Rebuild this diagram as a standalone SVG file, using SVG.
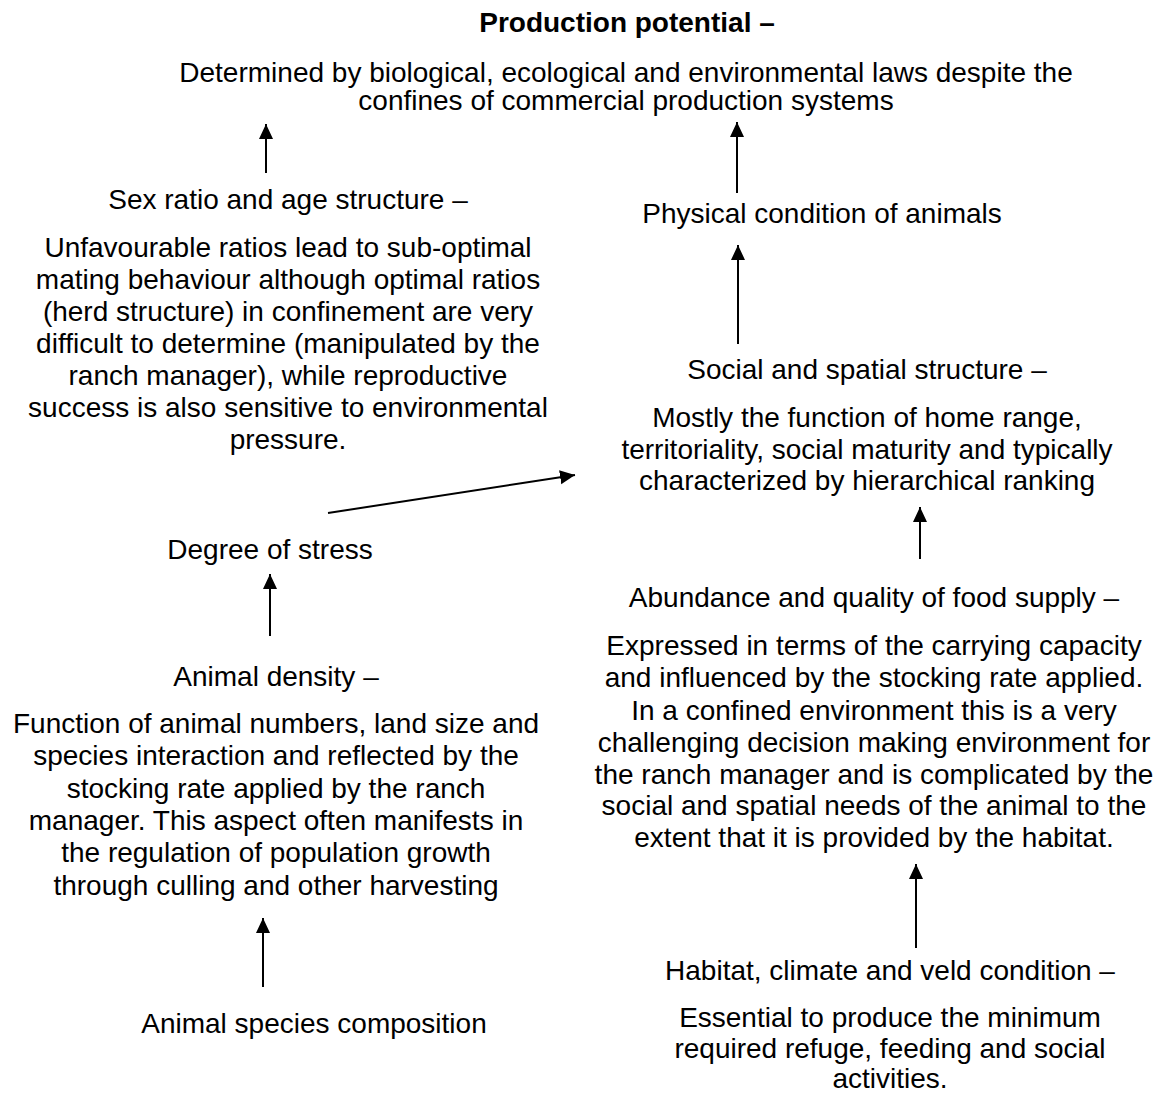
<svg xmlns="http://www.w3.org/2000/svg" width="1162" height="1095" viewBox="0 0 1162 1095">
<defs>
<style>
text{font-family:"Liberation Sans",Arial,sans-serif;font-size:28px;fill:#000;text-anchor:middle}
.b{font-weight:bold}
.c{stroke:#000;stroke-width:2;fill:none;marker-end:url(#ah)}
</style>
<marker id="ah" markerUnits="userSpaceOnUse" markerWidth="16" markerHeight="16" refX="15" refY="7" orient="auto" viewBox="0 0 16 14">
<path d="M0,0 L15,7 L0,14 z" fill="#000"/>
</marker>
</defs>
<rect width="1162" height="1095" fill="#fff"/>
<g id="production-potential">
<text class="b" x="627" y="32">Production potential –</text>
<text x="626" y="82">Determined by biological, ecological and environmental laws despite the</text>
<text x="626" y="110">confines of commercial production systems</text>
</g>
<g id="sex-ratio">
<text x="288" y="209">Sex ratio and age structure –</text>
<text x="288" y="257">Unfavourable ratios lead to sub-optimal</text>
<text x="288" y="289">mating behaviour although optimal ratios</text>
<text x="288" y="321">(herd structure) in confinement are very</text>
<text x="288" y="353">difficult to determine (manipulated by the</text>
<text x="288" y="385">ranch manager), while reproductive</text>
<text x="288" y="417">success is also sensitive to environmental</text>
<text x="288" y="449">pressure.</text>
</g>
<g id="physical-condition">
<text x="822" y="223">Physical condition of animals</text>
</g>
<g id="social-spatial">
<text x="867" y="379">Social and spatial structure –</text>
<text x="867" y="427">Mostly the function of home range,</text>
<text x="867" y="459">territoriality, social maturity and typically</text>
<text x="867" y="490">characterized by hierarchical ranking</text>
</g>
<g id="degree-of-stress">
<text x="270" y="559">Degree of stress</text>
</g>
<g id="animal-density">
<text x="276" y="686">Animal density –</text>
<text x="276" y="733">Function of animal numbers, land size and</text>
<text x="276" y="765">species interaction and reflected by the</text>
<text x="276" y="798">stocking rate applied by the ranch</text>
<text x="276" y="830">manager. This aspect often manifests in</text>
<text x="276" y="862">the regulation of population growth</text>
<text x="276" y="895">through culling and other harvesting</text>
</g>
<g id="species-composition">
<text x="314" y="1033">Animal species composition</text>
</g>
<g id="food-supply">
<text x="874" y="607">Abundance and quality of food supply –</text>
<text x="874" y="655">Expressed in terms of the carrying capacity</text>
<text x="874" y="687">and influenced by the stocking rate applied.</text>
<text x="874" y="720">In a confined environment this is a very</text>
<text x="874" y="752">challenging decision making environment for</text>
<text x="874" y="784">the ranch manager and is complicated by the</text>
<text x="874" y="815">social and spatial needs of the animal to the</text>
<text x="874" y="847">extent that it is provided by the habitat.</text>
</g>
<g id="habitat">
<text x="890" y="980">Habitat, climate and veld condition –</text>
<text x="890" y="1027">Essential to produce the minimum</text>
<text x="890" y="1058">required refuge, feeding and social</text>
<text x="890" y="1088">activities.</text>
</g>
<g id="connectors">
<line class="c" x1="266" y1="173" x2="266" y2="124"/>
<line class="c" x1="737" y1="193" x2="737" y2="122"/>
<line class="c" x1="738" y1="344" x2="738" y2="245"/>
<line class="c" x1="328" y1="513" x2="575" y2="475"/>
<line class="c" x1="270" y1="636" x2="270" y2="574"/>
<line class="c" x1="263" y1="987" x2="263" y2="918"/>
<line class="c" x1="920" y1="559" x2="920" y2="507"/>
<line class="c" x1="916" y1="948" x2="916" y2="864"/>
</g>
</svg>
